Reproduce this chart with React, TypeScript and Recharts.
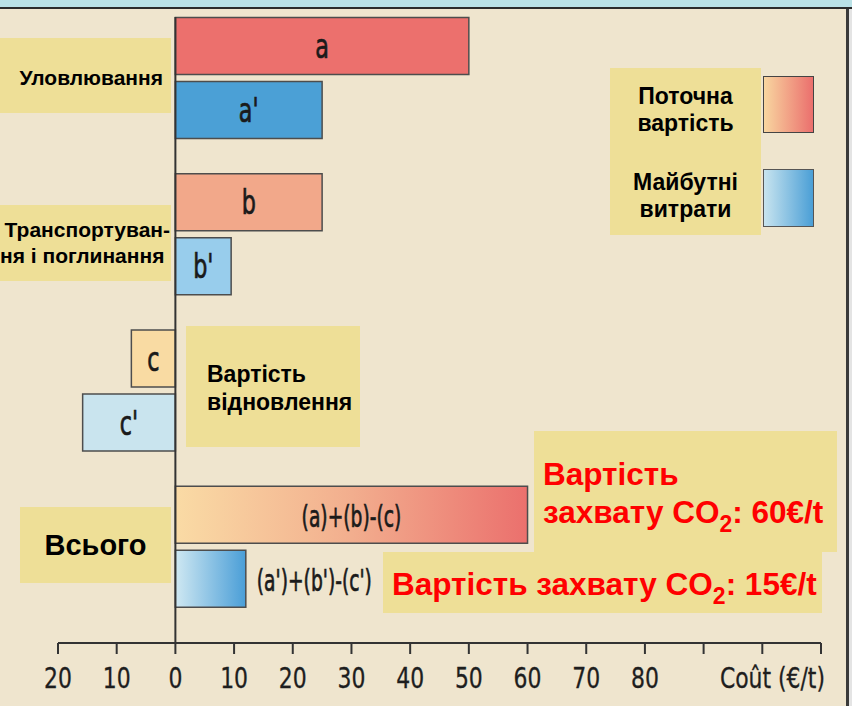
import React from 'react';
import { BarChart, Bar, XAxis, YAxis, Cell, LabelList, ReferenceLine } from 'recharts';

const categories = ['Уловлювання', 'Транспортування і поглинання', 'Вартість відновлення', 'Всього'];
const currentCost = [50, 25, -7.5, 60];
const futureCost = [25, 9.5, -15.8, 12];
const currentLabels = ['a', 'b', 'c', '(a)+(b)-(c)'];
const futureLabels = ["a'", "b'", "c'", "(a')+(b')-(c')"];
const currentColors = ['#EC706D', '#F2A88A', '#F9DBA3', 'url(#warmGrad)'];
const futureColors = ['#4BA0D6', '#98CDEC', '#C9E4EE', 'url(#coolGrad)'];
const xTicks = [-20, -10, 0, 10, 20, 30, 40, 50, 60, 70, 80, 90, 100, 110];
const xTickLabels = ['20', '10', '0', '10', '20', '30', '40', '50', '60', '70', '80', '', '', 'Coût (€/t)'];

const data = categories.map((c, i) => ({
  category: c,
  current: currentCost[i],
  future: futureCost[i],
  currentLabel: currentLabels[i],
  futureLabel: futureLabels[i],
}));

const NARROW = "'DejaVu Sans Condensed', 'DejaVu Sans', sans-serif";
const BOLD = "'Liberation Sans', Arial, sans-serif";
const BOX = '#EEDF97';
const BG = '#EFE5CE';

const BarText = (props: any) => {
  const vb = props.viewBox ?? props;
  const { x, y, width, height } = vb;
  const value = String(props.value ?? '');
  const isFormula = value.startsWith('(');
  const outside = value.startsWith("(a')");
  const cx = outside ? x + width + 11 : x + width / 2;
  const cy = y + height / 2 + 12;
  return (
    <g transform={`translate(${cx},${cy}) scale(${isFormula ? 0.67 : 0.75},1)`}>
      <text
        x={0}
        y={0}
        textAnchor={outside ? 'start' : 'middle'}
        fill="#1a1a1a"
        stroke="#1a1a1a"
        strokeWidth={0.7}
        fontFamily={NARROW}
        fontSize={isFormula ? 31 : 33}
      >
        {value}
      </text>
    </g>
  );
};

const AxisTick = (props: any) => {
  const { x, y, payload } = props;
  const i = xTicks.indexOf(payload.value);
  const label = xTickLabels[i] ?? '';
  const isTitle = i === xTicks.length - 1;
  return (
    <g transform={`translate(${isTitle ? x + 4 : x},${y}) scale(0.84,1)`}>
      <text
        x={0}
        y={0}
        dy="0.71em"
        textAnchor={isTitle ? 'end' : 'middle'}
        fill="#1e1e1e"
        stroke="#1e1e1e"
        strokeWidth={0.3}
        fontFamily={NARROW}
        fontSize={29}
      >
        {label}
      </text>
    </g>
  );
};

const boxBase: React.CSSProperties = {
  position: 'absolute',
  background: BOX,
  fontFamily: BOLD,
  fontWeight: 'bold',
  color: '#000',
  whiteSpace: 'nowrap',
  overflow: 'hidden',
  boxSizing: 'border-box',
};

const sub: React.CSSProperties = { fontSize: 23, verticalAlign: '-0.4em', lineHeight: 0 };

export default function App() {
  return (
    <div style={{ position: 'absolute', left: 0, top: 0, width: 852, height: 706, background: BG, overflow: 'hidden' }}>
      <div style={{ position: 'absolute', left: 0, top: 0, width: 852, height: 7, background: '#B9E1E6' }} />
      <div style={{ position: 'absolute', left: 0, top: 7, width: 852, height: 2, background: '#2b2b2b' }} />
      <div style={{ position: 'absolute', left: 846, top: 9, width: 3, height: 697, background: '#3a3a3a' }} />
      <div style={{ position: 'absolute', left: 849, top: 9, width: 3, height: 697, background: '#e4e4e4' }} />

      <div style={{ position: 'absolute', left: 0, top: 0 }}>
        <BarChart
          width={852}
          height={706}
          data={data}
          layout="vertical"
          margin={{ top: 17, right: 31, bottom: 13, left: 58 }}
          barSize={57}
          barGap={7}
        >
          <defs>
            <linearGradient id="warmGrad" x1="0" y1="0" x2="1" y2="0">
              <stop offset="0%" stopColor="#FADBA5" />
              <stop offset="50%" stopColor="#F2AE8E" />
              <stop offset="100%" stopColor="#EB706D" />
            </linearGradient>
            <linearGradient id="coolGrad" x1="0" y1="0" x2="1" y2="0">
              <stop offset="0%" stopColor="#CFE8F2" />
              <stop offset="100%" stopColor="#4A9ED7" />
            </linearGradient>
          </defs>
          <XAxis
            type="number"
            domain={[-20, 110]}
            ticks={xTicks}
            interval={0}
            tickSize={11}
            tickMargin={13}
            height={50}
            axisLine={{ stroke: '#333', strokeWidth: 2 }}
            tickLine={{ stroke: '#333', strokeWidth: 2 }}
            tick={<AxisTick />}
          />
          <YAxis type="category" dataKey="category" hide width={0} padding={{ top: -17.6, bottom: 18.4 }} />
          <Bar dataKey="current" isAnimationActive={false} stroke="#4d4d4d" strokeWidth={1.5}>
            {data.map((d, i) => (
              <Cell key={`c${i}`} fill={currentColors[i]} />
            ))}
            <LabelList dataKey="currentLabel" content={<BarText />} />
          </Bar>
          <Bar dataKey="future" isAnimationActive={false} stroke="#4d4d4d" strokeWidth={1.5}>
            {data.map((d, i) => (
              <Cell key={`f${i}`} fill={futureColors[i]} />
            ))}
            <LabelList dataKey="futureLabel" content={<BarText />} />
          </Bar>
          <ReferenceLine x={0} stroke="#333" strokeWidth={2} />
        </BarChart>
      </div>

      {/* Уловлювання */}
      <div style={{ ...boxBase, left: 0, top: 38, width: 171, height: 75, fontSize: 21, lineHeight: '24px', paddingTop: 28, paddingRight: 8, textAlign: 'right' }}>
        {categories[0]}
      </div>
      {/* Транспортування і поглинання */}
      <div style={{ ...boxBase, left: 0, top: 205, width: 171, height: 76, fontSize: 21, lineHeight: '26px', paddingTop: 12, paddingRight: 8, textAlign: 'right' }}>
        <div style={{ marginRight: -7 }}>Транспортуван-</div>
        <div>ня і поглинання</div>
      </div>
      {/* Legend */}
      <div style={{ ...boxBase, left: 610, top: 68, width: 151, height: 167, fontSize: 23, lineHeight: '27px', paddingTop: 15, textAlign: 'center' }}>
        <div>Поточна</div>
        <div>вартість</div>
        <div style={{ marginTop: 32 }}>Майбутні</div>
        <div>витрати</div>
      </div>
      <div style={{ position: 'absolute', left: 763, top: 76, width: 51, height: 57, boxSizing: 'border-box', border: '1.5px solid #444', background: 'linear-gradient(to right, #F8D6A0, #EB6F6D)' }} />
      <div style={{ position: 'absolute', left: 763, top: 169, width: 51, height: 58, boxSizing: 'border-box', border: '1.5px solid #555', background: 'linear-gradient(to right, #C8E4EF, #4B9FD6)' }} />
      {/* Вартість відновлення */}
      <div style={{ ...boxBase, left: 186, top: 326, width: 174, height: 121, fontSize: 23, lineHeight: '28px', paddingTop: 34, paddingLeft: 21 }}>
        <div>Вартість</div>
        <div>відновлення</div>
      </div>
      {/* Всього */}
      <div style={{ ...boxBase, left: 20, top: 507, width: 151, height: 76, fontSize: 29, lineHeight: '34px', paddingTop: 21, textAlign: 'center' }}>
        {categories[3]}
      </div>
      {/* Red annotations */}
      <div style={{ ...boxBase, left: 534, top: 431, width: 303, height: 121, fontSize: 31.5, lineHeight: '38px', paddingTop: 24, paddingLeft: 9, color: '#FF0000' }}>
        <div>Вартість</div>
        <div>
          захвату CO<span style={sub}>2</span>: 60€/t
        </div>
      </div>
      <div style={{ ...boxBase, left: 383, top: 552, width: 439, height: 61, fontSize: 31.5, lineHeight: '38px', paddingTop: 13, paddingLeft: 9, color: '#FF0000' }}>
        Вартість захвату CO<span style={sub}>2</span>: 15€/t
      </div>
    </div>
  );
}
